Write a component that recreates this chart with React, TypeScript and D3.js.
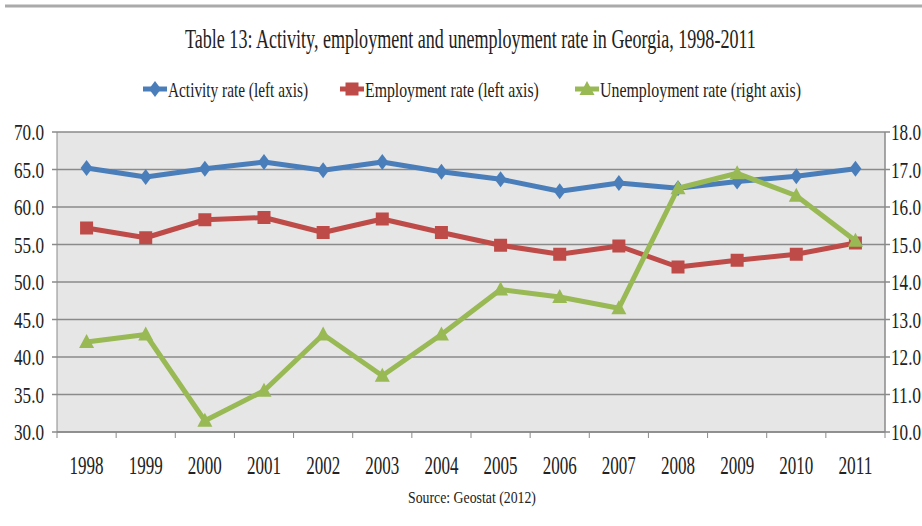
import React, { useLayoutEffect, useRef, useState } from "react";
import * as d3 from "d3";

const years = ["1998","1999","2000","2001","2002","2003","2004","2005","2006","2007","2008","2009","2010","2011"];
const activityRate = [65.2, 64.0, 65.1, 66.0, 64.9, 66.0, 64.7, 63.7, 62.1, 63.2, 62.5, 63.4, 64.1, 65.1];
const employmentRate = [57.2, 55.9, 58.3, 58.6, 56.6, 58.4, 56.6, 54.9, 53.7, 54.8, 52.0, 52.9, 53.7, 55.2];
const unemploymentRate = [12.4, 12.6, 10.3, 11.1, 12.6, 11.5, 12.6, 13.8, 13.6, 13.3, 16.5, 16.9, 16.3, 15.1];
const leftTicks = [30, 35, 40, 45, 50, 55, 60, 65, 70];
const rightTicks = [10, 11, 12, 13, 14, 15, 16, 17, 18];
const title = "Table 13: Activity, employment and unemployment rate in Georgia, 1998-2011";
const legendLabels = ["Activity rate (left axis)", "Employment rate (left axis)", "Unemployment rate (right axis)"];
const source = "Source: Geostat (2012)";

const W = 922, H = 526;
const L = 57, R = 885, T = 132, B = 432;
const FONT = "'Liberation Serif', 'DejaVu Serif', serif";
const TEXT = "#222";
const BLUE = "#4a7ebb", RED = "#be4b48", GREEN = "#98b954";

// Condensed text: measured natural width, then scaled horizontally to the target length.
function CText(props: any) {
  const { len, x, y, children, ...rest } = props;
  const ref = useRef<SVGTextElement>(null);
  const [sx, setSx] = useState(0.75);
  useLayoutEffect(() => {
    if (ref.current) {
      const w = ref.current.getComputedTextLength();
      if (w > 0) setSx(len / w);
    }
  }, [len, children]);
  return (
    <g transform={`translate(${x},${y}) scale(${sx},1)`}>
      <text ref={ref} x={0} y={0} fontFamily={FONT} fill={TEXT} {...rest}>
        {children}
      </text>
    </g>
  );
}

function Marker({ type, x, y, color }: { type: string; x: number; y: number; color: string }) {
  if (type === "diamond") {
    const s = 8;
    return <path d={`M${x},${y - s}L${x + 6},${y}L${x},${y + s}L${x - 6},${y}Z`} fill={color} />;
  }
  if (type === "square") {
    const s = 6.5;
    return <rect x={x - s} y={y - s} width={2 * s} height={2 * s} fill={color} />;
  }
  const s = 8;
  return <path d={`M${x},${y - s}L${x + 7.5},${y + 6}L${x - 7.5},${y + 6}Z`} fill={color} />;
}

export default function App() {
  const x = d3.scaleBand<string>().domain(years).range([L, R]).padding(0);
  const cx = (yr: string) => (x(yr) as number) + x.bandwidth() / 2;
  const yL = d3.scaleLinear().domain([30, 70]).range([B, T]);
  const yR = d3.scaleLinear().domain([10, 18]).range([B, T]);

  const lineL = d3.line<number>().x((_, i) => cx(years[i])).y((v) => yL(v));
  const lineR = d3.line<number>().x((_, i) => cx(years[i])).y((v) => yR(v));

  const series = [
    { data: activityRate, line: lineL, scale: yL, color: BLUE, marker: "diamond" },
    { data: employmentRate, line: lineL, scale: yL, color: RED, marker: "square" },
    { data: unemploymentRate, line: lineR, scale: yR, color: GREEN, marker: "triangle" },
  ];

  const legendItems = [
    { label: legendLabels[0], color: BLUE, marker: "diamond", mx: 143, tx: 168, len: 140 },
    { label: legendLabels[1], color: RED, marker: "square", mx: 340, tx: 365, len: 174 },
    { label: legendLabels[2], color: GREEN, marker: "triangle", mx: 575, tx: 600, len: 201 },
  ];

  const boundaries = years.map((yr) => x(yr) as number).concat([R]);

  return (
    <svg width={W} height={H} style={{ position: "absolute", left: 0, top: 0, background: "#fff" }}>
      <rect x={0} y={0} width={W} height={H} fill="#fff" />
      <line x1={5} x2={W} y1={6} y2={6} stroke="#aaa" strokeWidth={3} />
      <CText x={185} y={48} fontSize={28} len={571}>{title}</CText>

      {legendItems.map((it, i) => (
        <g key={i}>
          <line x1={it.mx} x2={it.mx + 24} y1={89} y2={89} stroke={it.color} strokeWidth={5} />
          <Marker type={it.marker} x={it.mx + 12} y={89} color={it.color} />
          <CText x={it.tx} y={97} fontSize={22} len={it.len}>{it.label}</CText>
        </g>
      ))}

      <rect x={L} y={T} width={R - L} height={B - T} fill="#e6e6e6" />
      {leftTicks.map((t) => (
        <g key={t}>
          <line x1={L - 5} x2={R} y1={yL(t)} y2={yL(t)} stroke="#8a8a8a" strokeWidth={1.5} />
          <CText x={44} y={yL(t) + 8} fontSize={23} textAnchor="end" len={30}>{t.toFixed(1)}</CText>
        </g>
      ))}
      {rightTicks.map((t) => (
        <g key={t}>
          <line x1={R} x2={R + 5} y1={yR(t)} y2={yR(t)} stroke="#8a8a8a" strokeWidth={1.5} />
          <CText x={891} y={yR(t) + 8} fontSize={23} len={30}>{t.toFixed(1)}</CText>
        </g>
      ))}
      <line x1={L} x2={L} y1={T} y2={B} stroke="#8a8a8a" strokeWidth={1} />
      <line x1={R} x2={R} y1={T} y2={B} stroke="#8a8a8a" strokeWidth={1.5} />
      <line x1={L} x2={R} y1={B} y2={B} stroke="#8a8a8a" strokeWidth={1.5} />
      {boundaries.map((b, i) => (
        <line key={i} x1={b} x2={b} y1={B} y2={B + 6} stroke="#8a8a8a" strokeWidth={1} />
      ))}
      {years.map((yr) => (
        <CText key={yr} x={cx(yr)} y={474} fontSize={25} textAnchor="middle" len={34}>{yr}</CText>
      ))}
      <CText x={408} y={503} fontSize={17} len={128}>{source}</CText>

      {series.map((s, si) => (
        <g key={si}>
          <path d={s.line(s.data) as string} fill="none" stroke={s.color} strokeWidth={5} strokeLinejoin="round" />
          {s.data.map((v, i) => (
            <Marker key={i} type={s.marker} x={cx(years[i])} y={s.scale(v)} color={s.color} />
          ))}
        </g>
      ))}
    </svg>
  );
}
